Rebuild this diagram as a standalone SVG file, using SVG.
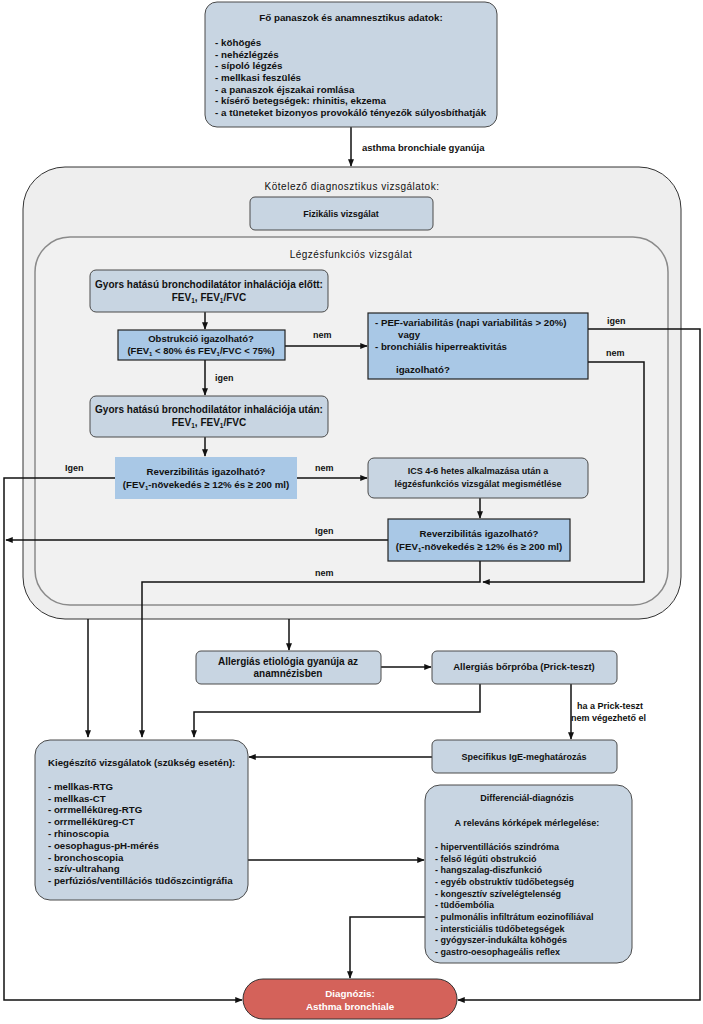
<svg xmlns="http://www.w3.org/2000/svg" width="703" height="1024" viewBox="0 0 703 1024">
<defs>
<marker id="ah" viewBox="0 0 10 10" refX="9" refY="5" markerWidth="5" markerHeight="5" orient="auto"><path d="M0,1 L10,5 L0,9 z" fill="#111"/></marker>
</defs>
<style>
text{font-family:"Liberation Sans",Arial,sans-serif;font-size:9px;fill:#111;font-weight:bold}
.c{text-anchor:middle}
.n{font-weight:normal;font-size:10px;letter-spacing:0.5px}
.s95{font-size:9.5px}
.s97{font-size:9.7px}
.s10{font-size:10px}
.box{fill:#c8d5e2;stroke:#4a4a4a;stroke-width:1}
.dec{fill:#a9c8e6;stroke:#222;stroke-width:1.2}
.cont{fill:#eeeeee;stroke:#333;stroke-width:1}
.inner{fill:#f1f1f1;stroke:#8a8a8a;stroke-width:1.5}
.ln{fill:none;stroke:#111;stroke-width:1.5}
.a{marker-end:url(#ah)}
.w{fill:#fff}
</style>
<rect width="703" height="1024" fill="#fff"/>

<g id="container-kotelezo">
<rect class="cont" x="23" y="167" width="658" height="452" rx="42"/>
<text class="c n" x="352" y="190">Kötelező diagnosztikus vizsgálatok:</text>
</g>
<g id="container-legzes">
<rect class="inner" x="35" y="237" width="633" height="368" rx="35"/>
<text class="c n" x="351" y="258">Légzésfunkciós vizsgálat</text>
</g>

<g id="connectors">
<path class="ln a" d="M351,127 V166"/>
<path class="ln a" d="M205,312 V329"/>
<path class="ln a" d="M285,346 H367"/>
<path class="ln a" d="M205,360 V395"/>
<path class="ln a" d="M205,437 V456"/>
<path class="ln a" d="M297,478 H367"/>
<path class="ln a" d="M115,478 H4 V1000 H242"/>
<path class="ln a" d="M480,498 V518"/>
<path class="ln a" d="M388,540 H6"/>
<path class="ln a" d="M480,561 V582 H142 V737"/>
<path class="ln a" d="M588,329 H700 V1000 H458"/>
<path class="ln a" d="M588,362 H644 V582 H483"/>
<path class="ln a" d="M88,619 V737"/>
<path class="ln a" d="M289,619 V650"/>
<path class="ln a" d="M381,667 H431"/>
<path class="ln a" d="M480,684 V712 H194 V737"/>
<path class="ln a" d="M571,684 V739"/>
<path class="ln a" d="M432,757 H249"/>
<path class="ln a" d="M248,860 H424"/>
<path class="ln a" d="M425,917 H350 V978"/>
<text class="s95" x="362" y="151">asthma bronchiale gyanúja</text>
<text x="313" y="338">nem</text>
<text x="215" y="381">igen</text>
<text x="315" y="471">nem</text>
<text x="65" y="471">Igen</text>
<text x="315" y="534">Igen</text>
<text x="315" y="576">nem</text>
<text x="607" y="324">igen</text>
<text x="606" y="356">nem</text>
<text x="577" y="709">ha a Prick-teszt</text>
<text x="571" y="721">nem végezhető el</text>
</g>

<g id="panaszok" style="font-size:9.8px">
<rect class="box" x="205" y="2" width="292" height="125" rx="12"/>
<text class="c" x="351" y="21" style="font-size:9.8px">Fő panaszok és anamnesztikus adatok:</text>
<text x="215" y="46" style="font-size:9.8px">- köhögés</text>
<text x="215" y="58" style="font-size:9.8px">- nehézlégzés</text>
<text x="215" y="69" style="font-size:9.8px">- sípoló légzés</text>
<text x="215" y="81" style="font-size:9.8px">- mellkasi feszülés</text>
<text x="215" y="93" style="font-size:9.8px">- a panaszok éjszakai romlása</text>
<text x="215" y="104" style="font-size:9.8px">- kísérő betegségek: rhinitis, ekzema</text>
<text x="215" y="116" style="font-size:9.8px">- a tüneteket bizonyos provokáló tényezők súlyosbíthatják</text>
</g>

<g id="fizikalis">
<rect class="box" x="250" y="197" width="183" height="33" rx="5"/>
<text class="c" x="341" y="217">Fizikális vizsgálat</text>
</g>

<g id="elott">
<rect class="box" x="90" y="270" width="238" height="42" rx="6"/>
<text class="c s10" x="209" y="288">Gyors hatású bronchodilatátor inhalációja előtt:</text>
<text class="c s10" x="209" y="301">FEV<tspan font-size="6.5" dy="2">1</tspan><tspan dy="-2">, FEV</tspan><tspan font-size="6.5" dy="2">1</tspan><tspan dy="-2">/FVC</tspan></text>
</g>

<g id="obstrukcio">
<rect class="dec" x="118" y="330" width="167" height="30"/>
<text class="c s95" x="201" y="342">Obstrukció igazolható?</text>
<text class="c s95" x="201" y="354">(FEV<tspan font-size="6" dy="2">1</tspan><tspan dy="-2"> &lt; 80% és FEV</tspan><tspan font-size="6" dy="2">1</tspan><tspan dy="-2">/FVC &lt; 75%)</tspan></text>
</g>

<g id="pef">
<rect class="dec" x="368" y="313" width="220" height="66"/>
<text class="s97" x="375" y="326">- PEF-variabilitás (napi variabilitás &gt; 20%)</text>
<text class="s97" x="398" y="338">vagy</text>
<text class="s97" x="375" y="350">- bronchiális hiperreaktivitás</text>
<text class="s97" x="396" y="373">igazolható?</text>
</g>

<g id="utan">
<rect class="box" x="90" y="396" width="238" height="41" rx="6"/>
<text class="c s10" x="209" y="413">Gyors hatású bronchodilatátor inhalációja után:</text>
<text class="c s10" x="209" y="426">FEV<tspan font-size="6.5" dy="2">1</tspan><tspan dy="-2">, FEV</tspan><tspan font-size="6.5" dy="2">1</tspan><tspan dy="-2">/FVC</tspan></text>
</g>

<g id="reverz1">
<rect x="115" y="457" width="182" height="42" fill="#a9c8e6"/>
<text class="c s97" x="206" y="475">Reverzibilitás igazolható?</text>
<text class="c s97" x="206" y="488">(FEV<tspan font-size="6" dy="2">1</tspan><tspan dy="-2">-növekedés ≥ 12% és ≥ 200 ml)</tspan></text>
</g>

<g id="ics">
<rect class="box" x="368" y="458" width="220" height="40" rx="6"/>
<text class="c" x="478" y="474">ICS 4-6 hetes alkalmazása után a</text>
<text class="c" x="478" y="487">légzésfunkciós vizsgálat megismétlése</text>
</g>

<g id="reverz2">
<rect class="dec" x="388" y="519" width="182" height="42"/>
<text class="c s97" x="479" y="537">Reverzibilitás igazolható?</text>
<text class="c s97" x="479" y="550">(FEV<tspan font-size="6" dy="2">1</tspan><tspan dy="-2">-növekedés ≥ 12% és ≥ 200 ml)</tspan></text>
</g>

<g id="etiologia">
<rect class="box" x="196" y="651" width="185" height="33" rx="5"/>
<text class="c s10" x="288" y="665">Allergiás etiológia gyanúja az</text>
<text class="c s10" x="288" y="677">anamnézisben</text>
</g>

<g id="borproba">
<rect class="box" x="432" y="651" width="185" height="33" rx="5"/>
<text class="c s95" x="524" y="670">Allergiás bőrpróba (Prick-teszt)</text>
</g>

<g id="ige">
<rect class="box" x="432" y="740" width="185" height="33" rx="5"/>
<text class="c" x="524" y="760">Specifikus IgE-meghatározás</text>
</g>

<g id="kiegeszito">
<rect class="box" x="35" y="740" width="213" height="160" rx="15"/>
<text class="s97" x="48" y="766">Kiegészítő vizsgálatok (szükség esetén):</text>
<text class="s97" x="48" y="790">- mellkas-RTG</text>
<text class="s97" x="48" y="802">- mellkas-CT</text>
<text class="s97" x="48" y="813">- orrmelléküreg-RTG</text>
<text class="s97" x="48" y="825">- orrmelléküreg-CT</text>
<text class="s97" x="48" y="837">- rhinoscopia</text>
<text class="s97" x="48" y="849">- oesophagus-pH-mérés</text>
<text class="s97" x="48" y="861">- bronchoscopia</text>
<text class="s97" x="48" y="872">- szív-ultrahang</text>
<text class="s97" x="48" y="884">- perfúziós/ventillációs tüdőszcintigráfia</text>
</g>

<g id="differencial">
<rect class="box" x="425" y="785" width="207" height="178" rx="15"/>
<text class="c" x="527" y="801">Differenciál-diagnózis</text>
<text class="c" x="527" y="826">A releváns kórképek mérlegelése:</text>
<text x="435" y="850">- hiperventillációs szindróma</text>
<text x="435" y="862">- felső légúti obstrukció</text>
<text x="435" y="873">- hangszalag-diszfunkció</text>
<text x="435" y="885">- egyéb obstruktív tüdőbetegség</text>
<text x="435" y="897">- kongesztív szívelégtelenség</text>
<text x="435" y="908">- tüdőembólia</text>
<text x="435" y="920">- pulmonális infiltrátum eozinofíliával</text>
<text x="435" y="932">- intersticiális tüdőbetegségek</text>
<text x="435" y="943">- gyógyszer-indukálta köhögés</text>
<text x="435" y="955">- gastro-oesophageális reflex</text>
</g>

<g id="diagnozis">
<rect x="243" y="979" width="214" height="40" rx="20" fill="#d4625a" stroke="#333" stroke-width="1"/>
<text class="c w" x="350" y="997" style="font-size:9.8px">Diagnózis:</text>
<text class="c w" x="350" y="1010" style="font-size:9.8px">Asthma bronchiale</text>
</g>
</svg>
